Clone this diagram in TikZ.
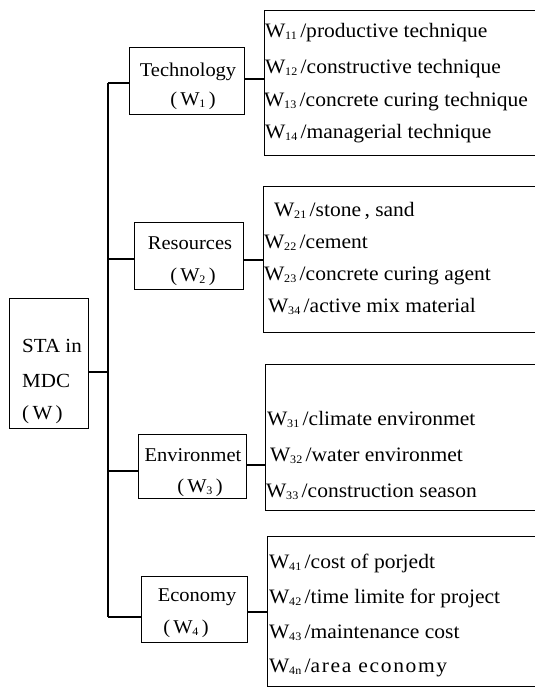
\documentclass[tikz,border=0pt]{standalone}
\usepackage{fontspec}
\setmainfont{Liberation Serif}[FakeStretch=1.05]
\newcommand{\Ws}[1]{W\kern-0.3pt\raisebox{-0.3ex}{\fontsize{11.5}{11.5}\selectfont #1}}
\newcommand{\Wd}[2]{\Ws{#1}\,/#2}
\tikzset{
  box/.style={draw, line width=1.1pt, inner sep=0pt, anchor=north west},
  txt/.style={font=\fontsize{20.5}{20.5}\selectfont, inner sep=0pt, anchor=base west},
  ctxt/.style={font=\fontsize{19.5}{19.5}\selectfont, inner sep=0pt, anchor=base},
  rtxt/.style={font=\fontsize{20}{20}\selectfont, inner sep=0pt, anchor=base west},
  wire/.style={line width=1.1pt},
}
\begin{document}
\begin{tikzpicture}[x=1pt, y=-1pt]
\useasboundingbox (0,0) rectangle (535,688);
% root
\node[box, minimum width=79pt, minimum height=130pt] (sta) at (9,298) {};
\node[rtxt] (sta1) at (22,352) {STA in};
\node[rtxt] (sta2) at (22,387) {MDC};
\node[rtxt] (sta3) at (22,419) {(\,W\,)};
% category boxes
\node[box, minimum width=115pt, minimum height=67pt] (tech) at (129,47) {};
\node[box, minimum width=109pt, minimum height=67pt] (res) at (134,222) {};
\node[box, minimum width=108pt, minimum height=64pt] (env) at (138,434) {};
\node[box, minimum width=106pt, minimum height=66pt] (eco) at (141,576) {};
\node[ctxt] (tech1) at (188,76) {Technology};
\node[ctxt] (tech2) at (193,105) {(\,\Ws{1}\,)};
\node[ctxt] (res1) at (190,249) {Resources};
\node[ctxt] (res2) at (193,281) {(\,\Ws{2}\,)};
\node[ctxt] (env1) at (193,461) {Environmet};
\node[ctxt] (env2) at (200,492) {(\,\Ws{3}\,)};
\node[ctxt] (eco1) at (197,601) {Economy};
\node[ctxt] (eco2) at (186,633) {(\,\Ws{4}\,)};
% detail boxes
\node[box, minimum width=270.5pt, minimum height=145pt] (techd) at (264,10) {};
\node[box, minimum width=271.5pt, minimum height=146pt] (resd) at (263,186) {};
\node[box, minimum width=269.5pt, minimum height=146pt] (envd) at (265,364) {};
\node[box, minimum width=267.5pt, minimum height=150pt] (ecod) at (267,536) {};
\node[txt] (t11) at (265,37) {\Wd{11}{productive technique}};
\node[txt] (t12) at (265,73) {\Wd{12}{constructive technique}};
\node[txt] (t13) at (264,106) {\Wd{13}{concrete curing technique}};
\node[txt] (t14) at (265,138) {\Wd{14}{managerial technique}};
\node[txt] (t21) at (274,216) {\Wd{21}{stone\,, sand}};
\node[txt] (t22) at (264,248) {\Wd{22}{cement}};
\node[txt] (t23) at (264,280) {\Wd{23}{concrete curing agent}};
\node[txt] (t24) at (268,312) {\Wd{34}{active mix material}};
\node[txt] (t31) at (267,425) {\Wd{31}{climate environmet}};
\node[txt] (t32) at (270,461) {\Wd{32}{water environmet}};
\node[txt] (t33) at (266,497) {\Wd{33}{construction season}};
\node[txt] (t41) at (269,568) {\Wd{41}{cost of porjedt}};
\node[txt] (t42) at (269,603) {\Wd{42}{time limite for project}};
\node[txt] (t43) at (269,638) {\Wd{43}{maintenance cost}};
\node[txt] (t44) at (269,672) {\Ws{4n}\,/\addfontfeature{LetterSpace=8}area economy};
% trunk and connectors
\coordinate (j1) at (108,83);
\coordinate (j2) at (108,259);
\coordinate (j0) at (108,372);
\coordinate (j3) at (108,471);
\coordinate (j4) at (108,617);
\draw[wire] (j1) -- (j4);
\draw[wire] (sta.east |- j0) -- (j0);
\draw[wire] (j1) -- (j1 -| tech.west);
\draw[wire] (j2) -- (j2 -| res.west);
\draw[wire] (j3) -- (j3 -| env.west);
\draw[wire] (j4) -- (j4 -| eco.west);
\coordinate (r1) at (254,79);
\coordinate (r2) at (254,260);
\coordinate (r3) at (254,465);
\coordinate (r4) at (254,612);
\draw[wire] (r1 -| tech.east) -- (r1 -| techd.west);
\draw[wire] (r2 -| res.east) -- (r2 -| resd.west);
\draw[wire] (r3 -| env.east) -- (r3 -| envd.west);
\draw[wire] (r4 -| eco.east) -- (r4 -| ecod.west);
\end{tikzpicture}
\end{document}
